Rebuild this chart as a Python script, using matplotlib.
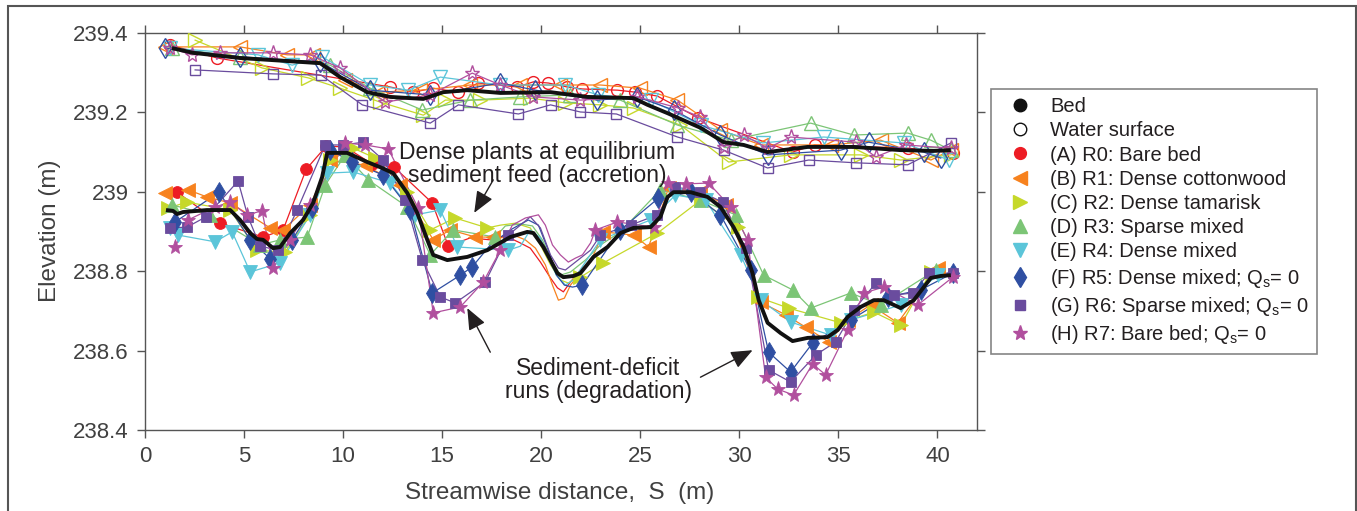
import matplotlib
matplotlib.use("Agg")

import matplotlib.pyplot as plt
from matplotlib.lines import Line2D
from matplotlib.patches import Rectangle

plt.rcParams['font.family'] = ['Liberation Sans', 'DejaVu Sans']

# mean profiles (thick black)
bed_mean_x = [1.06, 1.41, 1.62, 1.92, 3.13, 4.30, 4.80, 5.31, 5.66, 5.96, 6.47, 6.82, 7.33, 7.98, 8.49,
              8.94, 9.20, 10.21, 11.22, 11.87, 12.53, 13.24, 13.74, 14.25, 14.55, 15.26, 16.27, 17.28,
              18.44, 19.30, 19.61, 20.11, 20.82, 21.12, 21.63, 21.98, 22.64, 23.35, 24.00, 24.66, 25.52,
              26.02, 26.38, 26.68, 27.54, 28.40, 29.05, 29.71, 30.22, 30.67, 30.98, 31.43, 32.09, 32.69,
              33.45, 34.46, 34.97, 35.47, 36.13, 36.79, 37.29, 38.15, 38.81, 39.67, 40.17, 40.68]
bed_mean_y = [238.954, 238.952, 238.944, 238.949, 238.954, 238.954, 238.929, 238.896, 238.881, 238.879,
              238.858, 238.861, 238.896, 238.929, 238.972, 239.037, 239.098, 239.098, 239.075, 239.062,
              239.047, 238.997, 238.947, 238.879, 238.841, 238.828, 238.836, 238.853, 238.886, 238.899,
              238.896, 238.861, 238.795, 238.785, 238.788, 238.795, 238.836, 238.861, 238.896, 238.909,
              238.911, 238.937, 238.987, 238.999, 238.999, 238.987, 238.962, 238.911, 238.861, 238.795,
              238.727, 238.670, 238.644, 238.624, 238.632, 238.634, 238.652, 238.685, 238.710, 238.727,
              238.727, 238.707, 238.727, 238.783, 238.788, 238.790]
ws_mean_x = [1.36, 2.43, 4.80, 8.84, 9.85, 11.22, 12.38, 14.05, 15.06, 16.27, 17.94, 20.47, 22.33, 24.66,
             25.37, 26.38, 28.05, 29.21, 30.22, 31.43, 33.45, 35.78, 38.15, 39.82, 40.68]
ws_mean_y = [239.362, 239.350, 239.337, 239.324, 239.289, 239.251, 239.239, 239.234, 239.251, 239.256,
             239.249, 239.251, 239.239, 239.236, 239.219, 239.198, 239.161, 239.125, 239.118, 239.100,
             239.113, 239.113, 239.105, 239.103, 239.105]

# R0 bare bed
r0_bed_x = [1.62, 3.79, 5.96, 6.97, 8.14, 9.15, 10.11, 11.47, 12.58, 14.50, 15.31]
r0_bed_y = [238.999, 238.921, 238.886, 238.904, 239.057,239.115, 239.113, 239.070, 239.062, 238.972, 238.863]
r0_scan_x = [16.42, 17.43, 18.19, 18.95, 19.45, 19.96, 20.47, 20.82, 21.12, 21.48, 21.98, 22.49]
r0_scan_y = [238.884, 238.879, 238.889, 238.871, 238.858, 238.823, 238.783, 238.758, 238.748, 238.773,
             238.803, 238.823]
r0_ws_x = [1.26, 3.64, 12.38, 13.54, 14.55, 15.82, 16.83, 18.80, 19.61, 20.36, 21.32, 22.08, 23.85, 24.76,
           25.87, 27.94, 32.69, 33.80, 38.50, 40.78]
r0_ws_y = [239.370, 239.337, 239.264, 239.251, 239.261, 239.251, 239.274, 239.264, 239.277, 239.274,
           239.264, 239.259, 239.256, 239.251, 239.241, 239.186, 239.100, 239.118, 239.110, 239.098]

# R1 dense cottonwood
r1_bed_x = [1.01, 2.17, 3.13, 4.30, 6.32, 6.97, 8.34, 9.35, 11.12, 12.89, 14.55, 15.41, 16.68, 17.58,
            23.14, 24.66, 25.42, 26.43, 28.04, 29.31, 31.08, 32.34, 33.35, 34.51, 35.47, 36.63, 38.00, 40.02]
r1_bed_y = [238.997, 239.005, 238.987, 238.972, 238.909, 238.904, 238.967, 239.080, 239.067, 239.017,
            238.879, 238.904, 238.886, 238.886, 238.899, 238.891, 238.861, 239.010, 239.000, 238.967,
            238.722, 238.690, 238.659, 238.622, 238.677, 238.715, 238.670, 238.808]
r1_scan_x = [18.19, 18.70, 19.20, 19.71, 20.21, 20.57, 20.87, 21.17, 21.48, 21.88, 22.49]
r1_scan_y = [238.884, 238.889, 238.879, 238.858, 238.816, 238.765, 238.727, 238.732, 238.765, 238.790,
             238.823]
r1_ws_x = [1.01, 4.80, 7.18, 8.49, 10.11, 11.87, 13.90, 16.42, 18.95, 20.97, 22.99, 25.01, 26.88, 29.05,
           31.08, 34.61, 37.14, 39.67, 40.68]
r1_ws_y = [239.365, 239.365, 239.345, 239.345, 239.282, 239.251, 239.256, 239.269, 239.269, 239.269,
           239.269, 239.261, 239.231, 239.156, 239.118, 239.118, 239.130, 239.080, 239.105]

# R2 dense tamarisk
r2_bed_x = [1.16, 2.12, 4.30, 5.66, 7.07, 8.34, 9.35, 10.51, 11.62, 13.24, 14.40, 15.66, 17.28, 21.98,
            23.14, 25.87, 28.05, 29.91, 30.92, 32.49, 35.12, 36.79, 38.15, 39.67]
r2_bed_y = [238.959, 238.974, 238.954, 238.853, 238.848, 238.942, 239.080, 239.110, 239.085, 239.000,
            238.904, 238.934, 238.909, 238.785, 238.821, 238.896, 238.979, 238.911, 238.735, 238.707,
            238.670, 238.697, 238.664, 238.798]
r2_scan_x = [17.94, 18.70, 19.45, 19.96, 20.47, 20.97, 21.37, 21.73]
r2_scan_y = [238.916, 238.921, 238.909, 238.866, 238.816, 238.778, 238.770, 238.783]
r2_ws_x = [2.53, 5.91, 8.24, 9.85, 11.87, 14.05, 15.16, 16.93, 19.45, 21.22, 22.99, 24.66, 27.03, 29.46,
           32.59, 36.13, 38.15, 40.68]
r2_ws_y = [239.382, 239.312, 239.287, 239.261, 239.226, 239.193, 239.231, 239.231, 239.236, 239.224,
           239.219, 239.211, 239.168, 239.075, 239.093, 239.093, 239.080, 239.093]

# R3 sparse mixed
r3_bed_x = [1.36, 3.28, 5.81, 6.82, 8.19, 9.10, 10.11, 11.27, 13.24, 14.40, 15.56, 17.69, 26.02, 28.05,
            29.81, 31.23, 32.69, 33.60, 35.62, 37.14, 39.92]
r3_bed_y = [238.967, 238.942, 238.866, 238.879, 238.886, 239.017, 239.093, 239.030, 238.962, 238.841,
            238.904, 238.886, 239.005, 238.979, 238.942, 238.790, 238.753, 238.707, 238.745, 238.715,
            238.803]
r3_scan_x = [18.19, 18.95, 19.56, 20.06, 20.57, 20.97, 21.48, 22.23, 22.99, 24.00]
r3_scan_y = [238.914, 238.919, 238.914, 238.879, 238.823, 238.790, 238.798, 238.828, 238.866, 238.899]
r3_ws_x = [1.36, 4.80, 9.35, 11.37, 14.00, 16.42, 18.95, 21.47, 23.99, 26.88, 29.56, 33.60, 35.78, 38.50,
           39.67, 40.68]
r3_ws_y = [239.362, 239.340, 239.319, 239.261, 239.206, 239.231, 239.239, 239.244, 239.231, 239.168,
           239.130, 239.173, 239.143, 239.148, 239.130, 239.105]

# R4 dense mixed
r4_bed_x = [1.26, 1.67, 3.54, 4.40, 5.31, 6.82, 8.34, 9.20, 10.51, 12.38, 13.64, 14.91, 15.77, 18.34,
            22.99, 25.52, 26.78, 28.30, 30.07, 31.08, 32.59, 34.61, 35.62, 38.15, 40.02]
r4_bed_y = [238.909, 238.891, 238.874, 238.899, 238.798, 238.821, 238.942, 239.047, 239.050, 239.022,
            238.942, 238.954, 238.861, 238.853, 238.879, 238.929, 238.992, 238.979, 238.841, 238.727,
            238.672, 238.639, 238.677, 238.715, 238.790]
r4_scan_x = [18.95, 19.45, 19.96, 20.36, 20.77, 21.22, 21.63, 22.23]
r4_scan_y = [238.863, 238.904, 238.884, 238.833, 238.790, 238.765, 238.778, 238.823]
r4_ws_x = [1.26, 5.71, 7.43, 8.94, 11.37, 13.29, 14.91, 17.94, 21.22, 22.89, 25.52, 28.05, 31.18, 34.26,
           38.30, 40.58]
r4_ws_y = [239.362, 239.345, 239.319, 239.340, 239.269, 239.256, 239.289, 239.269, 239.269, 239.244,
           239.231, 239.168, 239.123, 239.138, 239.123, 239.080]

# R5 dense mixed, Qs = 0
r5_bed_x = [1.52, 3.74, 5.31, 6.32, 7.43, 8.44, 9.35, 10.46, 12.03, 13.39, 14.50, 15.92, 16.52, 22.08,
            24.00, 25.92, 27.54, 29.05, 30.57, 31.48, 32.59, 33.70, 35.62, 37.49, 39.16, 40.78]
r5_bed_y = [238.924, 238.999, 238.879, 238.831, 238.879, 238.959, 239.105, 239.075, 239.042, 238.954,
            238.745, 238.790, 238.811, 238.765, 238.904, 238.984, 238.999, 238.942, 238.803, 238.596,
            238.546, 238.619, 238.677, 238.735, 238.753, 238.795]
r5_scan_x = [17.43, 18.44, 19.35, 19.86, 20.36, 20.77, 21.17, 21.58]
r5_scan_y = [238.866, 238.904, 238.929, 238.916, 238.853, 238.790, 238.765, 238.760]
r5_ws_x = [1.01, 4.80, 8.84, 11.37, 14.40, 17.94, 19.71, 22.84, 24.86, 26.68, 29.05, 31.43, 35.12, 36.53,
           39.31, 40.17]
r5_ws_y = [239.362, 239.340, 239.327, 239.256, 239.244, 239.274, 239.256, 239.231, 239.239, 239.206,
           239.143, 239.093, 239.105, 239.125, 239.100, 239.085]

# R6 sparse mixed, Qs = 0
r6_bed_x = [1.26, 2.12, 3.08, 4.70, 5.20, 5.81, 6.72, 7.68, 9.10, 10.01, 11.02, 12.03, 13.14, 14.00, 14.91,
            15.66, 17.18, 18.34, 22.99, 24.51, 25.87, 26.78, 28.04, 29.16, 30.32, 31.48, 32.59, 33.86,
            34.87, 35.78, 36.89, 37.80, 38.76, 39.57, 40.78]
r6_bed_y = [238.909, 238.911, 238.937, 239.027, 238.937, 238.863, 238.853, 238.954, 239.118, 239.118,
            239.125, 239.080, 238.979, 238.828, 238.735, 238.720, 238.773, 238.891, 238.891, 238.916,
            238.942, 239.012, 239.000, 238.974, 238.858, 238.551, 238.521, 238.589, 238.622, 238.702,
            238.770, 238.740, 238.745, 238.795, 238.795]
r6_scan_x = [18.95, 19.45, 19.96, 20.47, 20.87, 21.22, 21.73, 22.49]
r6_scan_y = [238.916, 238.937, 238.909, 238.841, 238.808, 238.803, 238.823, 238.853]
r6_ws_x = [2.53, 6.47, 8.89, 10.97, 14.40, 15.82, 18.85, 20.47, 21.98, 23.80, 26.88, 29.21, 31.43, 33.50,
           35.88, 38.50, 40.68]
r6_ws_y = [239.307, 239.297, 239.294, 239.219, 239.173, 239.219, 239.196, 239.219, 239.201, 239.196,
           239.138, 239.105, 239.060, 239.080, 239.073, 239.068, 239.123]

# R7 bare bed, Qs = 0
r7_bed_x = [1.52, 2.17, 3.54, 4.30, 5.15, 5.91, 6.47, 7.33, 8.34, 10.11, 11.12, 12.28, 13.79, 14.55, 15.92,
            17.08, 17.94, 22.74, 23.85, 25.67, 26.38, 27.29, 28.45, 29.56, 30.42, 31.33, 31.94, 32.74,
            33.70, 34.36, 35.47, 36.28, 37.29, 39.01, 40.78]
r7_bed_y = [238.861, 238.929, 238.962, 238.974, 238.942, 238.952, 238.808, 238.879, 238.967, 239.123,
            239.118, 239.108, 238.959, 238.695, 238.710, 238.773, 238.853, 238.904, 238.924, 238.911,
            239.022, 239.020, 239.022, 238.962, 238.879, 238.533, 238.503, 238.488, 238.566, 238.539,
            238.652, 238.745, 238.760, 238.715, 238.785]
r7_scan_x = [18.54, 19.20, 19.86, 20.21, 20.57, 20.97, 21.37, 21.73, 22.08, 22.49]
r7_scan_y = [238.916, 238.934, 238.942, 238.916, 238.866, 238.841, 238.823, 238.833, 238.841, 238.871]
r7_ws_x = [1.26, 2.37, 3.79, 6.47, 8.34, 9.85, 12.13, 14.40, 16.52, 17.94, 19.61, 21.98, 24.86, 26.93,
           28.04, 29.21, 30.22, 31.43, 32.59, 35.88, 36.89, 38.40, 40.68]
r7_ws_y = [239.362, 239.345, 239.350, 239.350, 239.345, 239.312, 239.226, 239.244, 239.299, 239.269,
           239.239, 239.231, 239.239, 239.211, 239.188, 239.113, 239.143, 239.110, 239.138, 239.125,
           239.088, 239.118, 239.110]

run_labels = ['(A) R0: Bare bed', '(B) R1: Dense cottonwood', '(C) R2: Dense tamarisk',
              '(D) R3: Sparse mixed', '(E) R4: Dense mixed',
              r'(F) R5: Dense mixed; Q$_{\mathregular{s}}$= 0',
              r'(G) R6: Sparse mixed; Q$_{\mathregular{s}}$= 0',
              r'(H) R7: Bare bed; Q$_{\mathregular{s}}$= 0']
run_colors = ['#ed1c24', '#f7821e', '#c6d82a', '#7cc576', '#5bc5d9', '#2f4fa2', '#6a4c9e', '#b14f9e']
run_markers = ['o', '<', '>', '^', 'v', 'd', 's', '*']
run_sizes = [8.5, 9.5, 9.5, 9.5, 9.5, 10, 7, 11]

runs = [
    (r0_bed_x, r0_bed_y, r0_scan_x, r0_scan_y, r0_ws_x, r0_ws_y),
    (r1_bed_x, r1_bed_y, r1_scan_x, r1_scan_y, r1_ws_x, r1_ws_y),
    (r2_bed_x, r2_bed_y, r2_scan_x, r2_scan_y, r2_ws_x, r2_ws_y),
    (r3_bed_x, r3_bed_y, r3_scan_x, r3_scan_y, r3_ws_x, r3_ws_y),
    (r4_bed_x, r4_bed_y, r4_scan_x, r4_scan_y, r4_ws_x, r4_ws_y),
    (r5_bed_x, r5_bed_y, r5_scan_x, r5_scan_y, r5_ws_x, r5_ws_y),
    (r6_bed_x, r6_bed_y, r6_scan_x, r6_scan_y, r6_ws_x, r6_ws_y),
    (r7_bed_x, r7_bed_y, r7_scan_x, r7_scan_y, r7_ws_x, r7_ws_y),
]

W, H = 1357, 511
fig = plt.figure(figsize=(W / 100, H / 100), dpi=100)
ax = fig.add_axes([145 / W, 1 - 430 / H, (977 - 145) / W, (430 - 33) / H])

for (bx, by, sx, sy, wx, wy), c, m, ms in zip(runs, run_colors, run_markers, run_sizes):
    pts = sorted(zip(list(bx) + list(sx), list(by) + list(sy)))
    ax.plot([p[0] for p in pts], [p[1] for p in pts], color=c, lw=0.9, zorder=2)
    ax.plot(bx, by, ls='none', marker=m, ms=ms, mfc=c, mec=c, mew=0.6, zorder=3)
    ax.plot(wx, wy, color=c, lw=0.9, marker=m, ms=ms, mfc='none', mec=c, mew=1.0, zorder=3)

ax.plot(bed_mean_x, bed_mean_y, color='#111111', lw=2.8, zorder=6, solid_capstyle='butt')
ax.plot(ws_mean_x, ws_mean_y, color='#111111', lw=2.8, zorder=6, solid_capstyle='butt')

ax.set_xlim(0, 42)
ax.set_ylim(238.4, 239.4)
ax.set_xticks([0, 5, 10, 15, 20, 25, 30, 35, 40])
ax.set_yticks([238.4, 238.6, 238.8, 239.0, 239.2, 239.4])
ax.set_yticklabels(['238.4', '238.6', '238.8', '239', '239.2', '239.4'])
ax.tick_params(direction='out', length=5.8, width=1.0, color='#555555', labelcolor='#404040',
               labelsize=16, top=True, right=True, pad=6)
for sp in ax.spines.values():
    sp.set_color('#555555')
    sp.set_linewidth(1.0)

txt = '#231f20'
ax.text(19.81, 239.07, 'Dense plants at equilibrium\nsediment feed (accretion)', fontsize=16.5,
        color=txt, ha='center', va='center', linespacing=1.0, zorder=7)
ax.text(22.89, 238.526, 'Sediment-deficit\nruns (degradation)', fontsize=16.5,
        color=txt, ha='center', va='center', linespacing=1.0, zorder=7)
arrow = dict(arrowstyle='-|>,head_length=0.6,head_width=0.25', color='#231f20', lw=1.0,
             mutation_scale=22, shrinkA=0, shrinkB=0)
ax.annotate('', xy=(16.62, 238.947), xytext=(17.58, 239.030), arrowprops=arrow, zorder=7)
ax.annotate('', xy=(16.27, 238.707), xytext=(17.43, 238.596), arrowprops=arrow, zorder=7)
ax.annotate('', xy=(30.67, 238.601), xytext=(28.04, 238.533), arrowprops=arrow, zorder=7)

fig.text(50 / W, 1 - 231 / H, 'Elevation (m)', rotation=90, ha='center', va='center',
         fontsize=17.5, color='#404040')
fig.text(560 / W, 1 - 493 / H, 'Streamwise distance,  S  (m)', ha='center', va='center',
         fontsize=17.5, color='#404040')

handles = [Line2D([], [], ls='none', marker='o', ms=9, mfc='#111111', mec='#111111'),
           Line2D([], [], ls='none', marker='o', ms=9, mfc='white', mec='#111111', mew=1.0)]
for c, m, ms in zip(run_colors, run_markers, run_sizes):
    handles.append(Line2D([], [], ls='none', marker=m, ms=ms, mfc=c, mec=c))
labels = ['Bed', 'Water surface'] + run_labels
leg = fig.legend(handles, labels, loc='upper left', bbox_to_anchor=(991 / W, 1 - 89 / H),
                 fontsize=14.5, frameon=True, fancybox=False, borderpad=0.4, labelspacing=0.26,
                 handlelength=2.1, handletextpad=0.45, borderaxespad=0)
leg.get_frame().set_edgecolor('#666666')
leg.get_frame().set_linewidth(1.2)
for t in leg.get_texts():
    t.set_color(txt)

fig.patches.append(Rectangle((8 / W, -0.1), (1356 - 8) / W, 1 - 6 / H + 0.1, transform=fig.transFigure,
                             fill=False, ec='#555555', lw=1.5))

fig.savefig('out.png', dpi=100)
